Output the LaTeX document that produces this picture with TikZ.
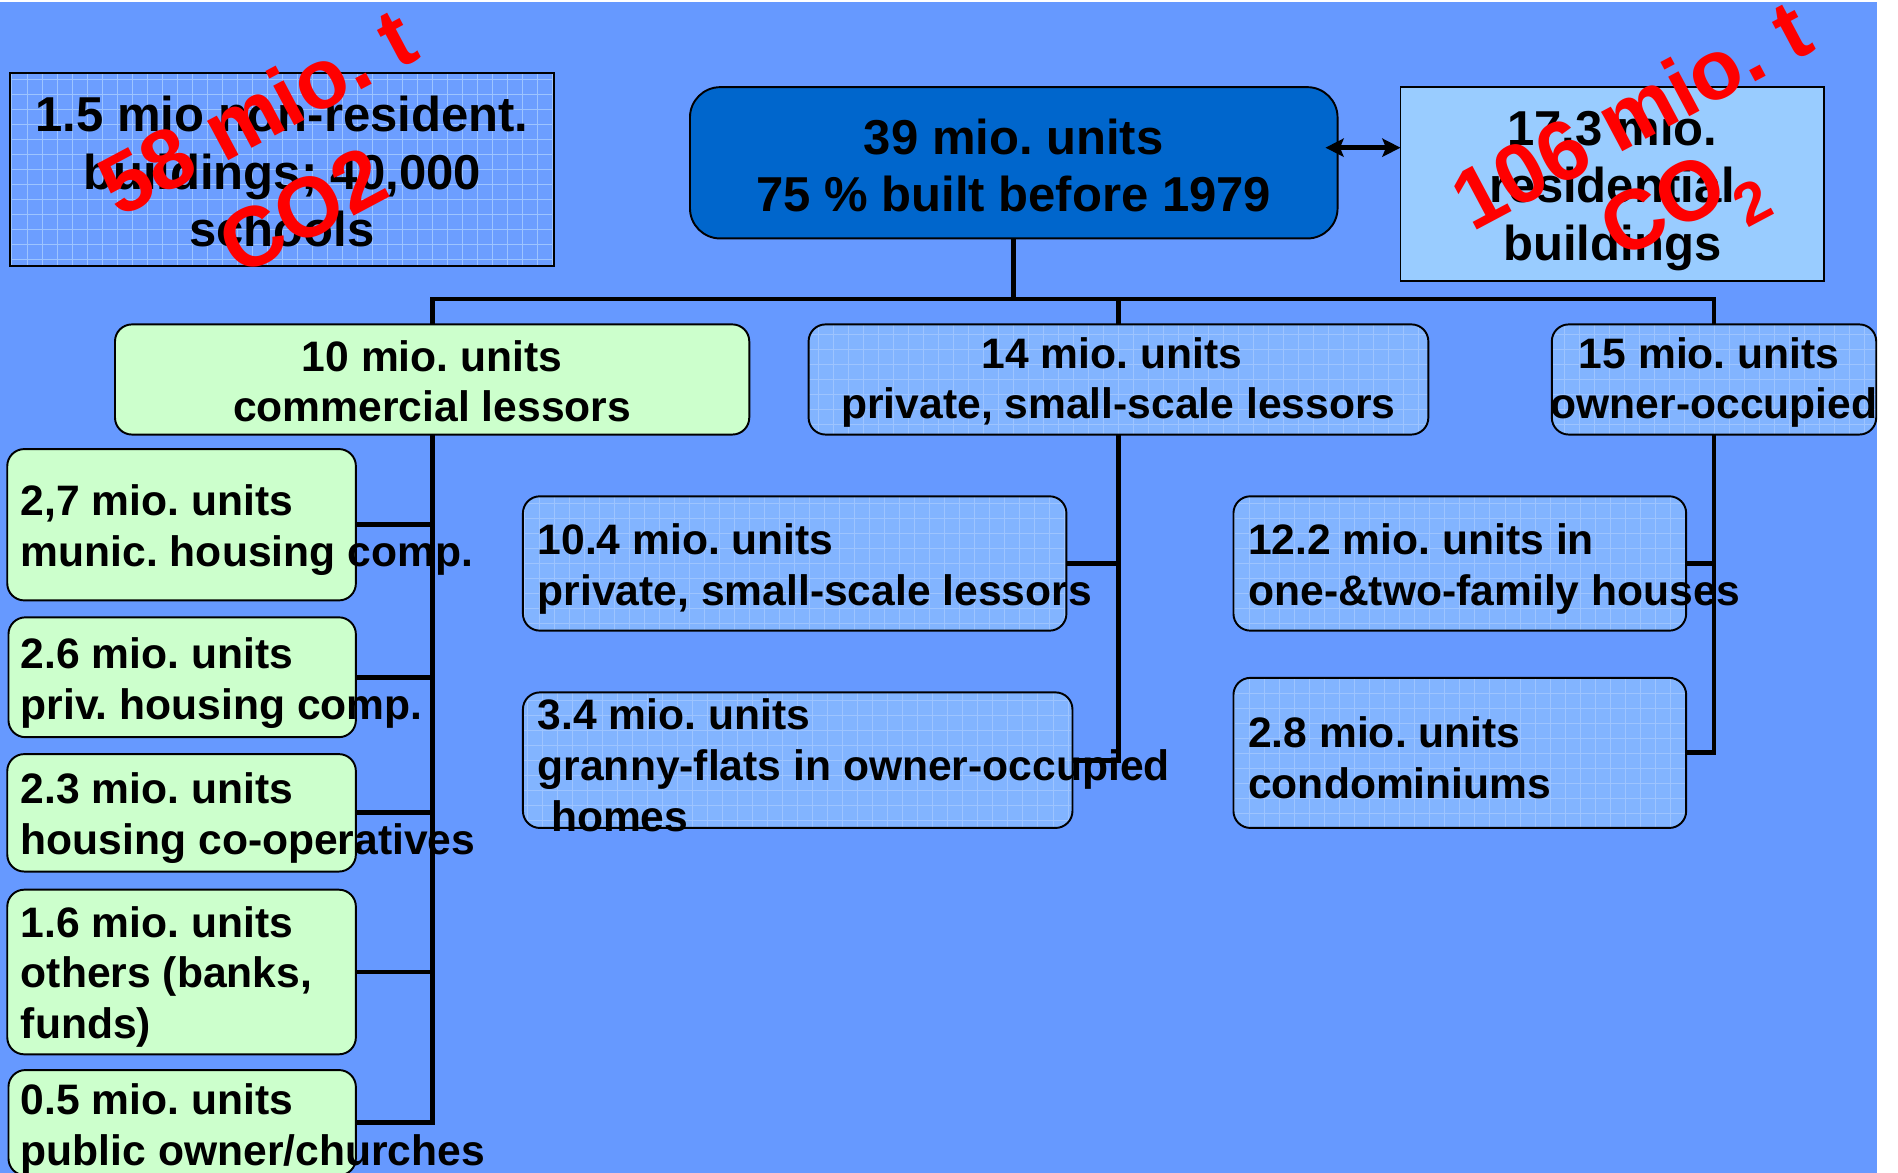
\documentclass[tikz,border=0pt]{standalone}
\usepackage{fontspec}
\setmainfont{Liberation Sans}
\usetikzlibrary{arrows.meta}
\definecolor{bg}{HTML}{6699FF}
\definecolor{lgreen}{HTML}{CCFFCC}
\definecolor{lblue}{HTML}{82B4FF}
\definecolor{dblue}{HTML}{0066CC}
\definecolor{pblue}{HTML}{99CCFF}
\definecolor{gridc}{HTML}{9DC4FF}
\definecolor{nrblue}{HTML}{6C9EFF}
\begin{document}
\frenchspacing
\begin{tikzpicture}[x=1pt,y=-1pt,
  boxbase/.style={draw=black,line width=1.6pt,inner sep=0pt,outer sep=0pt},
  gridpic/.style={path picture={\draw[gridc,line width=0.6pt,xstep=12.4pt,ystep=12.4pt]
      (path picture bounding box.south west) grid (path picture bounding box.north east);}},
  greenbox/.style={boxbase,fill=lgreen,rounded corners=14pt},
  gridbox/.style={boxbase,fill=lblue,rounded corners=14pt,gridpic},
  bigtxt/.style={font=\fontsize{40.5}{47.5}\selectfont\bfseries,align=center,inner sep=0pt},
  midtxt/.style={font=\fontsize{35.2}{42}\selectfont\bfseries,align=center,inner sep=0pt},
  txt/.style={font=\fontsize{35.2}{42}\selectfont\bfseries,inner sep=0pt,align=left,anchor=west},
  conn/.style={line width=4pt,black},
  dblarrow/.style={line width=4pt,{Stealth[length=15pt,width=15pt,inset=3pt]}-{Stealth[length=15pt,width=15pt,inset=3pt]},shorten <=-10pt},
  redtxt/.style={text=red,font=\fontsize{70}{80}\selectfont\bfseries,rotate=28,inner sep=0pt}
]
\useasboundingbox (0,0) rectangle (1568,969);
\fill[white] (0,0) rectangle (1568,969);
\fill[bg] (0,2) rectangle (1551,969);

% top level boxes
\node[boxbase,fill=nrblue,gridpic,minimum width=450pt,minimum height=160pt] (nonres) at (233,140) {};
\node[boxbase,fill=dblue,rounded corners=25pt,minimum width=535pt,minimum height=125pt] (top) at (837.5,134.5) {};
\node[boxbase,fill=pblue,minimum width=350pt,minimum height=160pt] (res) at (1332,152) {};

% second level boxes
\node[greenbox,minimum width=524pt,minimum height=91pt] (com) at (357,313.5) {};
\node[gridbox,minimum width=512pt,minimum height=91pt] (priv) at (924,313.5) {};
\node[gridbox,minimum width=268pt,minimum height=91pt] (own) at (1416,313.5) {};

% left column boxes
\node[greenbox,minimum width=288pt,minimum height=125pt] (b27) at (150,433.5) {};
\node[greenbox,minimum width=287pt,minimum height=99pt] (b26) at (150.5,559.5) {};
\node[greenbox,minimum width=288pt,minimum height=97pt] (b23) at (150,671.5) {};
\node[greenbox,minimum width=288pt,minimum height=136pt] (b16) at (150,803) {};
\node[greenbox,minimum width=287pt,minimum height=87pt] (b05) at (150.5,927.5) {};

% middle column boxes
\node[gridbox,minimum width=449pt,minimum height=111pt] (b104) at (656.5,465.5) {};
\node[gridbox,minimum width=454pt,minimum height=112pt] (b34) at (659,628) {};

% right column boxes
\node[gridbox,minimum width=374pt,minimum height=111pt] (b122) at (1206,465.5) {};
\node[gridbox,minimum width=374pt,minimum height=124pt] (b28) at (1206,622) {};

% connectors
\coordinate (bus) at (837.5,247);
\draw[conn] (top.south) -- (bus);
\draw[conn] (com.north) |- (bus) -| (own.north);
\draw[conn] (priv.north) -- (priv.north |- bus);

\draw[conn] (com.south) |- (b05.east);
\draw[conn] (b27.east) -- (b27.east -| com.south);
\draw[conn] (b26.east) -- (b26.east -| com.south);
\draw[conn] (b23.east) -- (b23.east -| com.south);
\draw[conn] (b16.east) -- (b16.east -| com.south);

\draw[conn] (priv.south) |- (b34.east);
\draw[conn] (b104.east) -- (b104.east -| priv.south);

\draw[conn] (own.south) |- (b28.east);
\draw[conn] (b122.east) -- (b122.east -| own.south);

\coordinate (arr) at (1130,122);
\draw[dblarrow] (arr -| top.east) -- (arr -| res.west);

% centred texts
\node[bigtxt] (tnonres) at (233,142) {1.5 mio non-resident.\\buildings; 40,000\\schools};
\node[bigtxt] (ttop) at (837.5,136.5) {39 mio. units\\75 \% built before 1979};
\node[bigtxt] (tres) at (1332,157) {17.3 mio.\\residential\\buildings};
\node[midtxt] (tcom) at (357,315) {10 mio. units\\commercial lessors};
\node[midtxt] (tpriv) at (924,316) {14 mio. units\hspace*{11pt}\\private, small-scale lessors};
\node[midtxt] (town) at (1416,316) {15 mio. units\hspace*{8pt}\\owner-occupied};

% texts of lower boxes
\node[txt] (t27) at (17,438) {2,7 mio. units\\munic. housing comp.};
\node[txt] (t26) at (17,564) {2.6 mio. units\\priv. housing comp.};
\node[txt] (t23) at (17,676) {2.3 mio. units\\housing co-operatives};
\node[txt] (t16) at (17,807) {1.6 mio. units\\others (banks,\\funds)};
\node[txt] (t05) at (17,932.5) {0.5 mio. units\\public owner/churches};
\node[txt] (t104) at (444,470) {10.4 mio. units\\private, small-scale lessors};
\node[txt] (t34) at (444,632) {3.4 mio. units\\granny-flats in owner-occupied\\\hspace*{11pt}homes};
\node[txt] (t122) at (1031,470) {12.2 mio. units in\\one-\&two-family houses};
\node[txt] (t28) at (1031,626) {2.8 mio. units\\condominiums};

% red CO2 overlays
\node[redtxt] (co2l1) at (212,92) {58 mio. t};
\node[redtxt] (co2l2) at (250,174) {CO2};
\node[redtxt] (co2r1) at (1347,94) {106 mio. t};
\node[redtxt] (co2r2) at (1392,174) {CO\textsubscript{2}};
\end{tikzpicture}
\end{document}
